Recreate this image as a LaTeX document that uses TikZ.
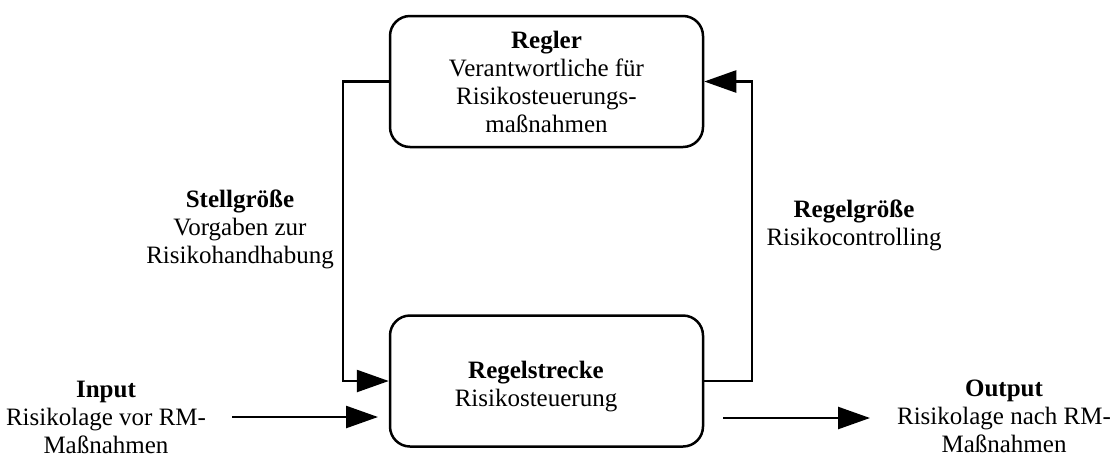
\documentclass[tikz,border=0pt]{standalone}
\usepackage{fontspec}
\setmainfont{Liberation Serif}
\usetikzlibrary{arrows.meta}
\begin{document}
\begin{tikzpicture}[x=1pt,y=-1pt,
  every node/.style={font=\fontsize{25}{28}\selectfont, align=center, inner sep=0pt},
  block/.style={draw, line width=2.5pt, rounded corners=20pt,
    minimum width=313pt, minimum height=131pt},
  link/.style={line width=2.5pt},
  arr/.style={link, -{Triangle[length=32pt,width=22pt]}}]
\useasboundingbox (0,0) rectangle (1115,456);

% controller and controlled system
\node[block] (regler) at (546.5,81.5)
  {\textbf{Regler}\\Verantwortliche für\\Risikosteuerungs-\\maßnahmen};
\node[block] (strecke) at (546.5,381) {};
\node (streckeText) at (536,387) {\textbf{Regelstrecke}\\Risikosteuerung};

% feedback loop
\coordinate (lx) at (343,0);
\coordinate (rx) at (752,0);
\draw[arr] (regler.west) -- (regler.west -| lx) -- (strecke.west -| lx) -- (strecke.west);
\draw[arr] (strecke.east) -- (strecke.east -| rx) -- (regler.east -| rx) -- (regler.east);

% input and output
\coordinate (inA) at (232,417);
\coordinate (inB) at (378,417);
\draw[arr] (inA) -- (inB);
\coordinate (outA) at (723,418);
\coordinate (outB) at (870,418);
\draw[arr] (outA) -- (outB);

% labels
\node (stell) at (240,229.4) {\textbf{Stellgröße}\\Vorgaben zur\\Risikohandhabung};
\node (regelgr) at (854,225) {\textbf{Regelgröße}\\Risikocontrolling};
\node (input) at (106,417) {\textbf{Input}\\Risikolage vor RM-\\Maßnahmen};
\node (output) at (1004,416) {\textbf{Output}\\Risikolage nach RM-\\Maßnahmen};
\end{tikzpicture}
\end{document}
